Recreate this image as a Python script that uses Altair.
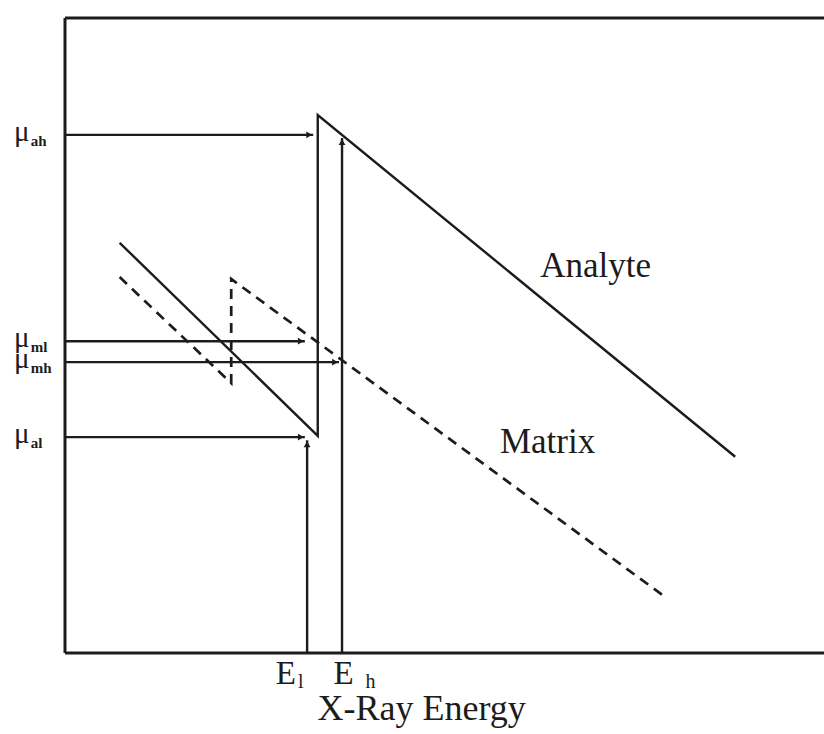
import altair as alt
import pandas as pd

# Attenuation vs. energy across the absorption edge (arbitrary units, 0-100)
analyte_energy = [7.2, 33.3, 33.3, 88.3]
analyte_mu = [64.6, 34.2, 84.7, 30.9]
matrix_energy = [7.2, 21.9, 21.9, 79.1]
matrix_mu = [59.2, 42.5, 58.9, 8.8]

# The two measurement energies just below / above the edge
edge_subs = ["l", "h"]
edge_energy = [31.9, 36.5]
edge_arrow_top = [33.5, 81.1]

# Attenuation coefficients read at those energies
mu_subs = ["ah", "ml", "mh", "al"]
mu_levels = [81.6, 49.1, 45.8, 34.0]
mu_arrow_end = [32.7, 31.6, 36.1, 31.6]

INK = "#1c1c1c"
SERIF = "Liberation Serif"

xs = alt.Scale(domain=[0, 100], nice=False, zero=False)
ys = alt.Scale(domain=[0, 100], nice=False, zero=False)

curves = pd.DataFrame({
    "energy": analyte_energy + matrix_energy,
    "mu": analyte_mu + matrix_mu,
    "series": ["Analyte"] * len(analyte_energy) + ["Matrix"] * len(matrix_energy),
    "order": list(range(len(analyte_energy))) + list(range(len(matrix_energy))),
})

edges = pd.DataFrame({"sub": edge_subs, "energy": edge_energy, "top": edge_arrow_top,
                      "zero": [0, 0]})
levels = pd.DataFrame({"sub": mu_subs, "mu": mu_levels, "end": mu_arrow_end,
                       "zero": [0] * len(mu_subs)})

X = lambda f: alt.X(f, type="quantitative", scale=xs, axis=None)
Y = lambda f: alt.Y(f, type="quantitative", scale=ys, axis=None)

# frame: left, bottom and top borders (no right border)
frame_df = pd.DataFrame({"x": [0, 0, 0], "x2": [0, 100, 100],
                         "y": [0, 0, 100], "y2": [100, 0, 100]})
frame = alt.Chart(frame_df).mark_rule(color=INK, strokeWidth=3).encode(
    x=X("x"), x2="x2", y=Y("y"), y2="y2")

analyte = alt.Chart(curves[curves.series == "Analyte"]).mark_line(
    color=INK, strokeWidth=2.4).encode(x=X("energy"), y=Y("mu"), order="order")
matrix = alt.Chart(curves[curves.series == "Matrix"]).mark_line(
    color=INK, strokeWidth=2.7, strokeDash=[10, 7]).encode(
    x=X("energy"), y=Y("mu"), order="order")

# vertical arrows at E_l and E_h
edge_rules = alt.Chart(edges).mark_rule(color=INK, strokeWidth=2.4).encode(
    x=X("energy"), y=Y("zero"), y2="top")
edge_heads = alt.Chart(edges).mark_point(
    shape="triangle-up", filled=True, size=45, color=INK, opacity=1, yOffset=4).encode(
    x=X("energy"), y=Y("top"))

# horizontal arrows for the mu levels
level_rules = alt.Chart(levels).mark_rule(color=INK, strokeWidth=2.4).encode(
    x=X("zero"), x2="end", y=Y("mu"))
level_heads = alt.Chart(levels).mark_point(
    shape="triangle-right", filled=True, size=45, color=INK, opacity=1, xOffset=-4).encode(
    x=X("end"), y=Y("mu"))

# mu symbols with subscripts to the left of the frame
levels["mu_x"] = -5.7
levels["sub_x"] = -4.5
mu_text = alt.Chart(levels).transform_calculate(sym="'μ'").mark_text(
    font=SERIF, fontSize=29, color=INK, align="center", baseline="alphabetic", dy=6).encode(
    x=X("mu_x"), y=Y("mu"), text="sym:N")
mu_sub_text = alt.Chart(levels).mark_text(
    font=SERIF, fontSize=15, fontWeight="bold", color=INK, align="left",
    baseline="alphabetic", dy=11).encode(
    x=X("sub_x"), y=Y("mu"), text="sub:N")

# E labels under the energy arrows
edges["e_x"] = [29.1, 36.7]
edges["s_x"] = [30.7, 39.6]
e_text = alt.Chart(edges).transform_calculate(sym="'E'").mark_text(
    font=SERIF, fontSize=33, color=INK, align="center", baseline="alphabetic", dy=31).encode(
    x=X("e_x"), y=Y("zero"), text="sym:N")
e_sub_text = alt.Chart(edges).mark_text(
    font=SERIF, fontSize=20, color=INK, align="left", baseline="alphabetic", dy=35).encode(
    x=X("s_x"), y=Y("zero"), text="sub:N")

# series names and the energy axis title
names = pd.DataFrame({"label": ["Analyte", "Matrix"], "x": [62.6, 57.3], "y": [59.2, 31.5]})
name_text = alt.Chart(names).mark_text(
    font=SERIF, fontSize=35, color=INK, align="left", baseline="alphabetic").encode(
    x=X("x"), y=Y("y"), text="label:N")

title_df = pd.DataFrame({"label": ["X-Ray Energy"], "x": [47.0], "y": [0]})
title_text = alt.Chart(title_df).mark_text(
    font=SERIF, fontSize=36, color=INK, align="center", baseline="alphabetic", dy=67).encode(
    x=X("x"), y=Y("y"), text="label:N")

chart = alt.layer(
    frame, analyte, matrix, edge_rules, edge_heads, level_rules, level_heads,
    mu_text, mu_sub_text, e_text, e_sub_text, name_text, title_text,
).properties(
    width=759, height=635,
    padding={"left": 65, "top": 18, "right": 0, "bottom": 81},
    autosize=alt.AutoSizeParams(type="none"),
    background="white",
).configure_view(stroke=None)

chart.save("out.html", embed_options={"renderer": "svg", "actions": False})
